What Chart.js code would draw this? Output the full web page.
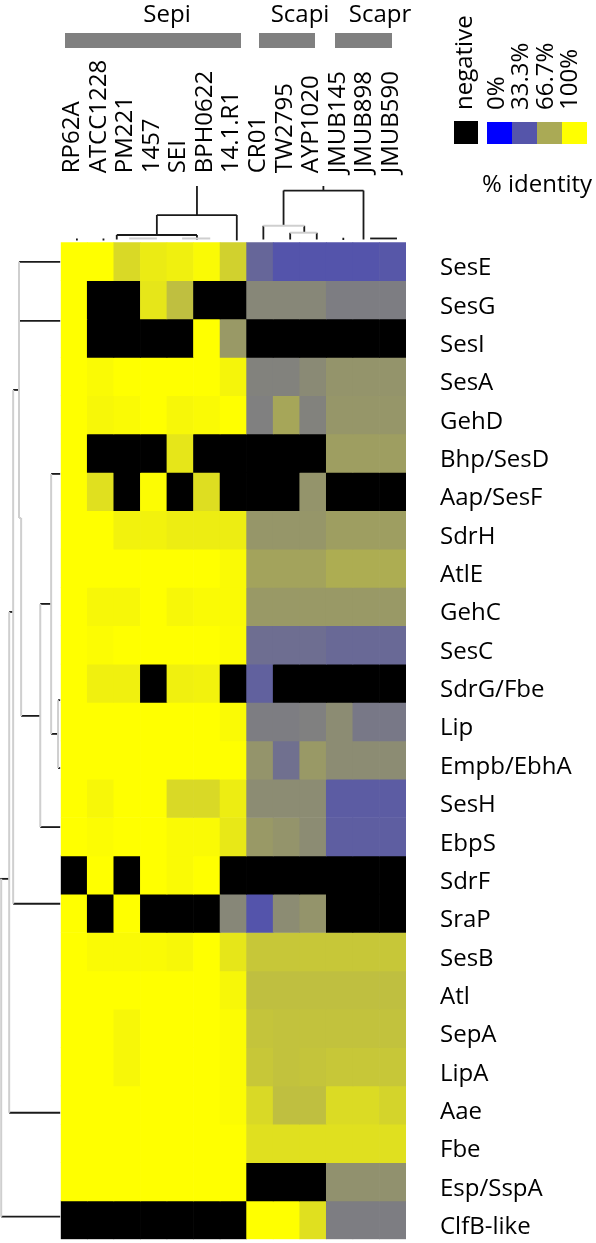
<!DOCTYPE html>
<html>
<head>
<meta charset="utf-8">
<script src="https://cdn.jsdelivr.net/npm/chart.js@4.4.1/dist/chart.umd.min.js"></script>
<style>
html,body{margin:0;padding:0;background:#fff;}
#wrap{position:relative;width:596px;height:1243px;}
</style>
</head>
<body>
<div id="wrap"><canvas id="c"></canvas></div>
<script>
// ---------------- DATA ----------------
const strains = ['RP62A','ATCC1228','PM221','1457','SEI','BPH0622','14.1.R1','CR01','TW2795','AYP1020','JMUB145','JMUB898','JMUB590'];
const genes = ['SesE','SesG','SesI','SesA','GehD','Bhp/SesD','Aap/SesF','SdrH','AtlE','GehC','SesC','SdrG/Fbe','Lip','Empb/EbhA','SesH','EbpS','SdrF','SraP','SesB','Atl','SepA','LipA','Aae','Fbe','Esp/SspA','ClfB-like'];
const groupNames = ['Sepi','Scapi','Scapr'];
const legendStops = [0, 33.3, 66.7, 100];
const legendLabels = ['0%','33.3%','66.7%','100%'];

// % identity per gene (one value per strain); null = negative
const sesE     = [100,100,85,92,94,98,82,40,33,33,33,33,34];
const sesG     = [100,null,null,90,75,null,null,53,53,53,49,49,49];
const sesI     = [100,null,null,null,null,100,60,null,null,null,null,null,null];
const sesA     = [100,98,100,100,100,100,96,51,51,54,58,58,58];
const gehD     = [100,97,98,100,97,98,100,50,65,51,59,59,59];
const bhpSesD  = [100,null,null,null,90,null,null,null,null,null,62,62,62];
const aapSesF  = [100,88,null,99,null,87,null,null,null,58,null,null,null];
const sdrH     = [100,100,95,95,93,93,93,59,59,59,62,62,62];
const atlE     = [100,100,100,100,100,100,98,64,64,64,68,68,68];
const gehC     = [100,97,97,100,97,98,98,60,60,60,60,60,60];
const sesC     = [100,99,100,100,100,100,99,43,43,43,41,41,41];
const sdrGFbe  = [100,94,94,null,94,95,null,38,null,null,null,null,null];
const lip      = [100,100,100,100,100,100,98,49,49,50,55,47,47];
const empbEbhA = [100,100,100,100,100,100,100,58,44,60,55,55,55];
const sesH     = [100,97,100,100,85,85,93,55,55,55,36,36,36];
const ebpS     = [100,99,100,100,98,98,91,60,58,55,37,37,37];
const sdrF     = [null,100,null,100,98,100,null,null,null,null,null,null,null];
const sraP     = [100,null,100,null,null,null,53,33,55,58,null,null,null];
const sesB     = [100,98,98,98,97,100,90,78,78,78,78,78,78];
const atl      = [100,100,100,100,100,100,97,75,75,75,75,75,75];
const sepA     = [100,100,97,100,100,100,99,77,76,76,76,76,76];
const lipA     = [100,100,97,100,100,100,99,78,76,77,78,78,78];
const aae      = [100,100,100,100,100,100,99,85,75,75,86,86,83];
const fbe      = [100,100,100,100,100,100,100,88,88,88,88,88,88];
const espSspA  = [100,100,100,100,100,100,100,null,null,null,57,57,57];
const clfBlike = [null,null,null,null,null,null,null,100,100,88,49,49,49];
const identityRows = [sesE,sesG,sesI,sesA,gehD,bhpSesD,aapSesF,sdrH,atlE,gehC,sesC,sdrGFbe,lip,empbEbhA,sesH,ebpS,sdrF,sraP,sesB,atl,sepA,lipA,aae,fbe,espSspA,clfBlike];

// dendrogram segments [x1,y1,x2,y2] in column / row units
const topTreeDark = [
  [4.63,-1.47,4.63,-0.71],[3.12,-0.71,6.13,-0.71],[6.13,-0.71,6.13,-0.05],
  [3.12,-0.71,3.12,-0.19],[1.61,-0.19,4.63,-0.19],[1.61,-0.19,1.61,-0.07],[4.63,-0.19,4.63,-0.07],
  [9.39,-1.47,9.39,-1.35],[7.89,-1.35,10.90,-1.35],[10.90,-1.35,10.90,-0.07],[7.89,-1.35,7.89,-0.43],
  [7.13,-0.43,7.13,-0.07],[8.67,-0.43,8.67,-0.25],[8.14,-0.25,8.14,-0.07],[9.14,-0.25,9.14,-0.07],
  [11.15,-0.10,12.16,-0.10],[10.14,-0.12,10.14,-0.06],[0.11,-0.10,0.11,-0.05],[1.11,-0.10,1.11,-0.05]
];
const topTreeLight = [
  [2.08,-0.10,3.12,-0.10],[4.07,-0.10,5.13,-0.10],[7.13,-0.43,8.67,-0.43],[8.14,-0.25,9.14,-0.25]
];
const leftTreeDark = [
  [-2.07,0.51,-0.52,0.51],[-2.07,2.05,-0.52,2.05],[-2.29,3.85,-2.07,3.85],[-2.29,17.25,-0.52,17.25],
  [-0.86,6.04,-0.52,6.04],[-1.27,9.43,-0.86,9.43],[-1.27,15.25,-0.52,15.25],[-1.99,12.35,-1.27,12.35],
  [-2.44,9.64,-2.29,9.64],[-2.44,22.70,-0.52,22.70],[-2.78,16.60,-2.44,16.60],[-2.74,25.41,-0.52,25.41],
  [-0.86,12.82,-0.60,12.82],[-0.60,11.94,-0.52,11.94],[-0.60,13.71,-0.52,13.71]
];
const leftTreeLight = [
  [-2.07,0.51,-2.07,2.05],[-2.07,2.05,-2.07,7.19],[-2.07,7.19,-1.99,7.19],[-2.29,3.85,-2.29,17.25],
  [-0.86,6.04,-0.86,12.82],[-1.27,9.43,-1.27,15.25],[-1.99,7.19,-1.99,12.35],[-2.44,9.64,-2.44,22.70],
  [-2.74,16.60,-2.74,25.41],[-0.60,11.94,-0.60,13.71]
];

// ---------------- RENDER ----------------
function colorFor(v){
  if (v === null || v === undefined) return '#000000';
  const t = Math.max(0, Math.min(1, v/100));
  const rg = Math.round(255*t), b = Math.round(255*(1-t));
  return `rgb(${rg},${rg},${b})`;
}

const FONT = '"Open Sans", Lato, sans-serif';
const FS = 24;

const barSets = identityRows.map((row, r) => ({
  type: 'bar',
  label: genes[r],
  data: strains.map(() => 1),
  backgroundColor: row.map(colorFor),
  borderWidth: 0,
  barPercentage: 1,
  categoryPercentage: 1,
  grouped: false,
  xAxisID: 'x', yAxisID: 'y',
  stack: 'heat',
  order: 2
}));

function segSets(list, color, width){
  return list.map(s => ({
    type: 'line',
    data: [{x: s[0], y: s[1]}, {x: s[2], y: s[3]}],
    borderColor: color,
    borderWidth: width,
    pointRadius: 0,
    tension: 0,
    fill: false,
    clip: false,
    xAxisID: 'xd', yAxisID: 'yd',
    order: 1
  }));
}

const lineSets = [].concat(
  segSets(topTreeLight, '#cfcfcf', 2),
  segSets(leftTreeLight, '#cfcfcf', 2),
  segSets(topTreeDark, '#1a1a1a', 1.8),
  segSets(leftTreeDark, '#1a1a1a', 1.8)
);

const headerPlugin = {
  id: 'header',
  afterDraw(chart){
    const ctx = chart.ctx;
    ctx.save();
    ctx.fillStyle = '#000';
    ctx.font = FS + 'px ' + FONT;
    ctx.textAlign = 'center';
    ctx.textBaseline = 'alphabetic';
    const gx = [167, 300, 380];
    groupNames.forEach((g, i) => ctx.fillText(g, gx[i], 22));
    ctx.fillStyle = '#808080';
    [[65,241],[259,315],[335,392]].forEach(b => ctx.fillRect(b[0], 33, b[1]-b[0], 15));

    // legend
    ctx.fillStyle = '#000';
    ctx.fillRect(454, 121, 24, 23);
    legendStops.forEach((v, i) => {
      ctx.fillStyle = colorFor(v);
      ctx.fillRect(487 + 25*i, 122, 25, 22);
    });
    ctx.fillStyle = '#000';
    const rot = (txt, x, y) => {
      ctx.save();
      ctx.translate(x, y);
      ctx.rotate(-Math.PI/2);
      ctx.textAlign = 'left';
      ctx.textBaseline = 'middle';
      ctx.fillText(txt, 0, 0);
      ctx.restore();
    };
    rot('negative', 465, 110);
    legendLabels.forEach((t, i) => rot(t, 497 + 24.5*i, 110));
    ctx.textAlign = 'center';
    ctx.textBaseline = 'alphabetic';
    ctx.fillText('% identity', 537, 192);
    ctx.restore();
  }
};

function build(){
  Chart.defaults.font.family = FONT;
  new Chart(document.getElementById('c'), {
    type: 'bar',
    data: { labels: strains, datasets: barSets.concat(lineSets) },
    options: {
      responsive: true,
      maintainAspectRatio: false,
      animation: false,
      events: [],
      layout: { padding: { left: 60.7, right: 0, top: 0, bottom: 3.7 } },
      plugins: { legend: { display: false }, tooltip: { enabled: false } },
      scales: {
        x: { type: 'category', stacked: true, offset: true, display: false },
        y: { type: 'linear', stacked: true, min: 0, max: 26, reverse: true, offset: false, display: false },
        xd: { type: 'linear', min: -0.5, max: 12.5, offset: false, display: false },
        yd: { type: 'linear', min: 0, max: 26, reverse: true, offset: false, display: false },
        xTop: {
          type: 'category', labels: strains, position: 'top', offset: true,
          grid: { display: false, drawTicks: false }, border: { display: false },
          ticks: { autoSkip: false, minRotation: 90, maxRotation: 90, padding: 69, labelOffset: 27, color: '#000', font: { size: FS } },
          afterFit(s){ s.height = 242.3; s.paddingLeft = 0; s.paddingRight = 0; }
        },
        yGenes: {
          type: 'category', labels: genes, position: 'right', offset: true,
          grid: { display: false, drawTicks: false }, border: { display: false },
          ticks: { autoSkip: false, padding: 34, labelOffset: 7, color: '#000', font: { size: FS } },
          afterFit(s){ s.width = 190; s.paddingTop = 0; s.paddingBottom = 0; }
        }
      }
    },
    plugins: [headerPlugin]
  });
}

if (document.fonts && document.fonts.load) {
  Promise.all([document.fonts.load(FS + 'px "Open Sans"')]).then(build, build);
} else { build(); }
</script>
</body>
</html>
